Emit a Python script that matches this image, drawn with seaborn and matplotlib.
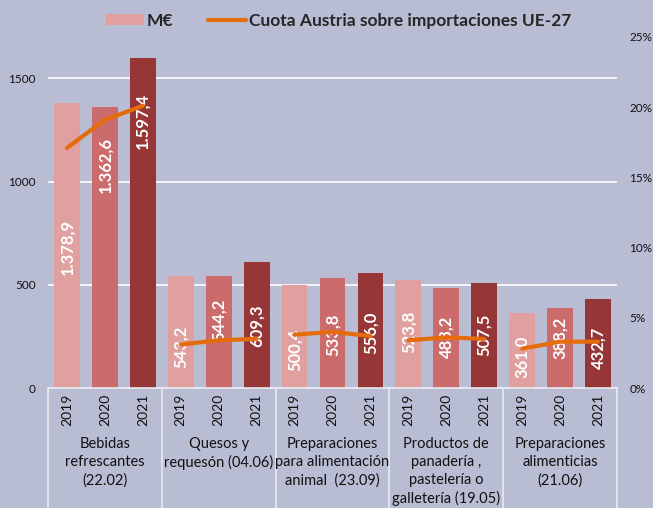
import matplotlib
matplotlib.use("Agg")
import matplotlib.pyplot as plt
from matplotlib.patches import Patch
from matplotlib.lines import Line2D
import seaborn as sns
import pandas as pd

# data
categories = [
    "Bebidas\nrefrescantes\n(22.02)",
    "Quesos y\nrequesón (04.06)",
    "Preparaciones\npara alimentación\nanimal  (23.09)",
    "Productos de\npanadería ,\npastelería o\ngalletería (19.05)",
    "Preparaciones\nalimenticias\n(21.06)",
]
years = ["2019", "2020", "2021"]
meur_2019 = [1378.9, 543.2, 500.4, 523.8, 361.0]
meur_2020 = [1362.6, 544.2, 533.8, 483.2, 388.2]
meur_2021 = [1597.4, 609.3, 556.0, 507.5, 432.7]
share_2019 = [17.1, 3.1, 3.8, 3.4, 2.8]
share_2020 = [19.1, 3.4, 4.0, 3.6, 3.3]
share_2021 = [20.1, 3.5, 3.7, 3.5, 3.3]

# where Excel put the value labels (data units, centre of text)
label_y = [
    [683, 198, 184, 270, 150],
    [1082, 330, 256, 246, 241],
    [1295, 300, 266, 256, 193],
]

bar_colors = ["#E0A0A0", "#CB6B6B", "#963636"]
line_color = "#E46C0A"
bg = "#B8BDD3"
box_color = "#E9EAF1"

sns.set_style("white")
plt.rcParams["font.family"] = ["Lato", "DejaVu Sans"]

rows = []
for yr, vals in zip(years, [meur_2019, meur_2020, meur_2021]):
    for cat, v in zip(categories, vals):
        rows.append({"cat": cat, "year": yr, "meur": v})
df = pd.DataFrame(rows)


def fmt_es(v):
    s = f"{v:,.1f}"
    return s.replace(",", "X").replace(".", ",").replace("X", ".")


fig = plt.figure(figsize=(6.53, 5.08), dpi=100)
fig.patch.set_facecolor(bg)
ax = fig.add_axes([0.0735, 0.2362, 0.8714, 0.691])
ax.set_facecolor(bg)

sns.barplot(data=df, x="cat", y="meur", hue="year", order=categories,
            hue_order=years, palette=bar_colors, saturation=1,
            width=1.0, gap=0.32, legend=False, linewidth=0, ax=ax)

ax.set_xlim(-0.5, len(categories) - 0.5)
ax.set_ylim(0, 1700)
ax.set_yticks([0, 500, 1000, 1500])
ax.set_yticklabels(["0", "500", "1000", "1500"])
ax.yaxis.grid(True, color="white", lw=1.2)
ax.set_axisbelow(True)
ax.set_xlabel("")
ax.set_ylabel("")
for side in ["left", "right", "top"]:
    ax.spines[side].set_visible(False)
ax.spines["bottom"].set_color(box_color)
ax.spines["bottom"].set_linewidth(1.2)
ax.tick_params(axis="y", length=0, pad=9, labelsize=8.5, labelcolor="#111111")

# year tick labels under each bar
centers = []
for j, cont in enumerate(ax.containers):
    centers.append([b.get_x() + b.get_width() / 2 for b in cont])
xt = [c for i in range(len(categories)) for c in (centers[0][i], centers[1][i], centers[2][i])]
ax.set_xticks(xt)
ax.set_xticklabels(years * len(categories), rotation=90, fontsize=10)
ax.tick_params(axis="x", length=0, pad=4, labelcolor="#111111")

# category labels and separators
xtr = ax.get_xaxis_transform()
for i, cat in enumerate(categories):
    ax.text(i, -0.14, cat, transform=xtr, ha="center", va="top",
            fontsize=10.5, linespacing=1.35, color="#111111")
for k in range(len(categories) + 1):
    ax.plot([k - 0.5, k - 0.5], [0, -0.36], transform=xtr, color=box_color,
            lw=1.2, clip_on=False)

# value labels inside bars
for j, vals in enumerate([meur_2019, meur_2020, meur_2021]):
    for i, v in enumerate(vals):
        ax.text(centers[j][i], label_y[j][i], fmt_es(v), rotation=90,
                ha="center", va="center", color="white", fontsize=12,
                fontweight="bold")

# share line on the right axis
ax2 = ax.twinx()
ax2.set_ylim(0, 25)
for i in range(len(categories)):
    xs = [centers[j][i] for j in range(3)]
    ys = [share_2019[i], share_2020[i], share_2021[i]]
    ax2.plot(xs, ys, color=line_color, lw=3, solid_capstyle="round",
             solid_joinstyle="round")
ax2.set_yticks([0, 5, 10, 15, 20, 25])
ax2.set_yticklabels([f"{t}%" for t in [0, 5, 10, 15, 20, 25]])
ax2.tick_params(axis="y", length=0, pad=9, labelsize=8.5, labelcolor="#111111")
for side in ax2.spines:
    ax2.spines[side].set_visible(False)

handles = [Patch(facecolor=bar_colors[0], edgecolor="none"),
           Line2D([0], [0], color=line_color, lw=3)]
fig.legend(handles, ["M€", "Cuota Austria sobre importaciones UE-27"],
           loc="center", bbox_to_anchor=(0.518, 0.959), ncol=2, frameon=False,
           prop={"weight": "bold", "size": 12.5}, handlelength=2.2,
           handleheight=0.55, handletextpad=0.15, columnspacing=2.0)

fig.savefig("out.png", dpi=100, facecolor=bg)
plt.close(fig)
